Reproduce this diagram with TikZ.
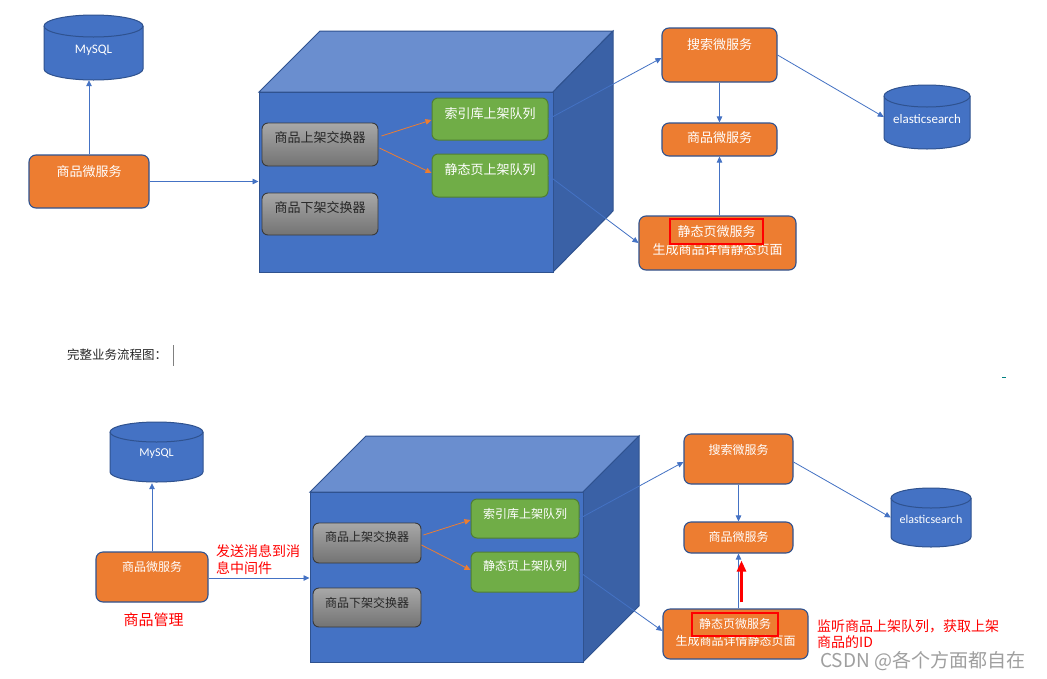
\documentclass[tikz,border=0pt]{standalone}
\usepackage{fontspec}
\setmainfont{Noto Sans CJK SC}
\newfontfamily\latf{Carlito}
\usetikzlibrary{arrows.meta,calc}
\definecolor{cblue}{HTML}{4472C4}
\definecolor{cbord}{HTML}{2F528F}
\definecolor{corange}{HTML}{ED7D31}
\definecolor{cgreen}{HTML}{70AD47}
\definecolor{cgreenb}{HTML}{507E32}
\definecolor{cgrayt}{HTML}{A8A8A8}
\definecolor{cgrayb}{HTML}{737373}
\definecolor{cgrayd}{HTML}{3A3A3A}
\definecolor{ctop}{HTML}{6A8ECF}
\definecolor{cright}{HTML}{3A61A6}
\definecolor{cred}{HTML}{FF0000}
\definecolor{ctxt}{HTML}{262626}
\tikzset{
  obox/.style={rectangle, rounded corners=7pt, fill=corange, draw=cbord, line width=1.1pt, inner sep=0pt},
  gbox/.style={rectangle, rounded corners=6pt, top color=cgrayt, bottom color=cgrayb, draw=cgrayd, line width=0.9pt, inner sep=0pt},
  qbox/.style={rectangle, rounded corners=6pt, fill=cgreen, draw=cgreenb, line width=1pt, inner sep=0pt},
  area/.style={rectangle, inner sep=0pt},
  wtA/.style={text=white, inner sep=0pt, font=\fontsize{13}{15}\selectfont},
  wtB/.style={text=white, inner sep=0pt, font=\fontsize{12}{14}\selectfont},
  dtA/.style={text=ctxt, inner sep=0pt, font=\fontsize{13}{15}\selectfont},
  dtB/.style={text=ctxt, inner sep=0pt, font=\fontsize{12}{14}\selectfont},
  conn/.style={draw=cblue, line width=0.8pt, -{Triangle[length=6pt,width=5.5pt]}},
  oconn/.style={draw=corange, line width=0.8pt, -{Triangle[length=6pt,width=5.5pt]}},
  redbox/.style={draw=cred, line width=1.2pt},
  redtxt/.style={text=cred, inner sep=0pt, anchor=west, font=\fontsize{14}{16}\selectfont},
  cylfill/.style={fill=cblue, draw=cbord, line width=1pt},
}
\begin{document}
\begin{tikzpicture}[x=1pt,y=-1pt]
\useasboundingbox[fill=white] (0,0) rectangle (1047,678);

% ================= TOP DIAGRAM =================
% MySQL cylinder
\filldraw[cylfill] (143,26) -- (143,69) arc[start angle=0,end angle=-180,x radius=49.5pt,y radius=11pt] -- (44,26) arc[start angle=180,end angle=0,x radius=49.5pt,y radius=11pt] -- cycle;
\draw[cbord, line width=1pt] (44,26) arc[start angle=180,end angle=360,x radius=49.5pt,y radius=11pt];
\node[area, minimum width=99pt, minimum height=65pt] (mysql1) at (93.5,47.5) {};
\node[text=white, inner sep=0pt, font=\latf\fontsize{13}{15}\selectfont] (mysql1t) at (93.5,50) {MySQL};

% elasticsearch cylinder
\filldraw[cylfill] (970,96) -- (970,138) arc[start angle=0,end angle=-180,x radius=43pt,y radius=11pt] -- (884,96) arc[start angle=180,end angle=0,x radius=43pt,y radius=11pt] -- cycle;
\draw[cbord, line width=1pt] (884,96) arc[start angle=180,end angle=360,x radius=43pt,y radius=11pt];
\node[area, minimum width=86pt, minimum height=64pt] (es1) at (927,117) {};
\node[text=white, inner sep=0pt, font=\latf\fontsize{13}{15}\selectfont] (es1t) at (927,119) {elasticsearch};

% cube
\filldraw[fill=ctop, draw=cbord, line width=1pt] (259,92) -- (320,31) -- (613,31) -- (553,92) -- cycle;
\filldraw[fill=cright, draw=cbord, line width=1pt] (553,92) -- (613,31) -- (613,211) -- (553,272) -- cycle;
\node[area, fill=cblue, draw=cbord, line width=1pt, minimum width=294pt, minimum height=180pt] (cube1) at (406,182) {};

% boxes
\node[obox, minimum width=120pt, minimum height=53pt] (pm1) at (89,181.5) {};
\node[wtA] (pm1t) at (89,172) {商品微服务};
\node[gbox, minimum width=116pt, minimum height=43pt] (ex1) at (320,144.5) {};
\node[dtA] (ex1t) at (320,138) {商品上架交换器};
\node[gbox, minimum width=116pt, minimum height=42pt] (ex2) at (320,214) {};
\node[dtA] (ex2t) at (320,208) {商品下架交换器};
\node[qbox, minimum width=116pt, minimum height=42pt] (q1) at (490,119) {};
\node[wtA] (q1t) at (490,114) {索引库上架队列};
\node[qbox, minimum width=116pt, minimum height=43pt] (q2) at (490,175.5) {};
\node[wtA] (q2t) at (490,170) {静态页上架队列};
\node[obox, minimum width=115pt, minimum height=54pt] (search1) at (719.5,55) {};
\node[wtA] (search1t) at (719.5,45) {搜索微服务};
\node[obox, minimum width=115pt, minimum height=33pt] (pm2) at (719.5,139.5) {};
\node[wtA] (pm2t) at (719.5,138) {商品微服务};
\node[obox, minimum width=157pt, minimum height=54pt] (static1) at (717.5,243) {};
\node[wtA] (static1t) at (716.5,232) {静态页微服务};
\node[wtA] (static1u) at (717.5,250) {生成商品详情静态页面};
\node[area, redbox, minimum width=93pt, minimum height=25pt] (rb1) at (716.5,231.5) {};

% connectors
\draw[conn] (pm1.north) -- (pm1.north |- mysql1.south);
\draw[conn] (pm1.east) -- (pm1.east -| cube1.west);
\draw[oconn] ([xshift=3pt,yshift=8.5pt]ex1.east) -- ([yshift=-1pt]q1.west);
\draw[oconn] ([xshift=1pt,yshift=-3.5pt]ex1.east) -- ([yshift=2.5pt]q2.west);
\draw[conn] (q1.east) -- ([yshift=-3pt]search1.west);
\draw[conn] (q2.east) -- (static1.west);
\draw[conn] (search1.south) -- (pm2.north);
\draw[conn] (pm2.south |- static1.north) -- (pm2.south);
\draw[conn] (search1.east) -- (es1.west);

% ================= MIDDLE TEXT =================
\node[inner sep=0pt, anchor=west, text=ctxt, font=\fontsize{12.5}{14}\selectfont] (title) at (67,355) {完整业务流程图：};
\draw[gray, line width=0.8pt] (173,345) -- (173,366);
\draw[teal, line width=1pt] (1002,377) -- (1006,377);

% ================= BOTTOM DIAGRAM =================
\filldraw[cylfill] (203,432) -- (203,472) arc[start angle=0,end angle=-180,x radius=46.5pt,y radius=10pt] -- (110,432) arc[start angle=180,end angle=0,x radius=46.5pt,y radius=10pt] -- cycle;
\draw[cbord, line width=1pt] (110,432) arc[start angle=180,end angle=360,x radius=46.5pt,y radius=10pt];
\node[area, minimum width=93pt, minimum height=61pt] (mysql2) at (156.5,452.5) {};
\node[text=white, inner sep=0pt, font=\latf\fontsize{12}{14}\selectfont] (mysql2t) at (156.5,454) {MySQL};

\filldraw[cylfill] (971,498) -- (971,537) arc[start angle=0,end angle=-180,x radius=40pt,y radius=10pt] -- (891,498) arc[start angle=180,end angle=0,x radius=40pt,y radius=10pt] -- cycle;
\draw[cbord, line width=1pt] (891,498) arc[start angle=180,end angle=360,x radius=40pt,y radius=10pt];
\node[area, minimum width=80pt, minimum height=59pt] (es2) at (931,517.5) {};
\node[text=white, inner sep=0pt, font=\latf\fontsize{12}{14}\selectfont] (es2t) at (931,519) {elasticsearch};

\filldraw[fill=ctop, draw=cbord, line width=1pt] (310,492) -- (366,436) -- (639,436) -- (583,492) -- cycle;
\filldraw[fill=cright, draw=cbord, line width=1pt] (583,492) -- (639,436) -- (639,606) -- (583,662) -- cycle;
\node[area, fill=cblue, draw=cbord, line width=1pt, minimum width=273pt, minimum height=170pt] (cube2) at (446.5,577) {};

\node[obox, minimum width=112pt, minimum height=50pt] (pm3) at (152,577) {};
\node[wtB] (pm3t) at (152,567) {商品微服务};
\node[gbox, minimum width=108pt, minimum height=40pt] (ex3) at (367,543) {};
\node[dtB] (ex3t) at (367,537) {商品上架交换器};
\node[gbox, minimum width=108pt, minimum height=39pt] (ex4) at (367,607.5) {};
\node[dtB] (ex4t) at (367,603) {商品下架交换器};
\node[qbox, minimum width=108pt, minimum height=39pt] (q3) at (525,518.5) {};
\node[wtB] (q3t) at (525,514) {索引库上架队列};
\node[qbox, minimum width=108pt, minimum height=40pt] (q4) at (525,572) {};
\node[wtB] (q4t) at (525,566) {静态页上架队列};
\node[obox, minimum width=109pt, minimum height=50pt] (search2) at (738.5,459) {};
\node[wtB] (search2t) at (738.5,450) {搜索微服务};
\node[obox, minimum width=109pt, minimum height=31pt] (pm4) at (738.5,537.5) {};
\node[wtB] (pm4t) at (738.5,537) {商品微服务};
\node[obox, minimum width=145pt, minimum height=50pt] (static2) at (735.5,634) {};
\node[wtB] (static2t) at (735,624) {静态页微服务};
\node[wtB] (static2u) at (735.5,641) {生成商品详情静态页面};
\node[area, redbox, minimum width=86pt, minimum height=23pt] (rb2) at (735,624.5) {};

% red annotations
\node[redtxt, align=left, font=\fontsize{14}{17}\selectfont] (lbl1) at (216,559.5) {发送消息到消\\息中间件};
\node[text=cred, inner sep=0pt, font=\fontsize{15}{17}\selectfont] (lbl2) at (153.5,620) {商品管理};
\node[redtxt, align=left, font=\fontsize{14}{15.5}\selectfont] (lbl3) at (817,634) {监听商品上架队列，获取上架\\商品的ID};

% connectors
\draw[conn] (pm3.north) -- (pm3.north |- mysql2.south);
\draw[conn] ([yshift=-1pt]pm3.east) -- ([yshift=-1pt]pm3.east -| cube2.west);
\draw[oconn] ([xshift=2pt,yshift=8pt]ex3.east) -- ([yshift=-1.5pt]q3.west);
\draw[oconn] ([yshift=-2pt]ex3.east) -- ([yshift=2pt]q4.west);
\draw[conn] (q3.east) -- ([yshift=-3pt]search2.west);
\draw[conn] (q4.east) -- ([yshift=3pt]static2.west);
\draw[conn] (search2.south) -- (pm4.north);
\draw[conn] (pm4.south |- static2.north) -- (pm4.south);
\draw[conn] ([yshift=-3pt]search2.east) -- (es2.west);
\coordinate (ra) at ([xshift=3pt,yshift=6pt]pm4.south |- static2.north);
\coordinate (rb) at ([xshift=3pt,yshift=-7pt]pm4.south);
\draw[cred, line width=3pt, -{Triangle[length=11pt,width=9pt]}] (ra) -- (rb);

% watermark
\node[inner sep=0pt, anchor=base west, text=gray!75, font=\fontsize{19}{21}\selectfont] (wm) at (820,667) {CSDN @各个方面都自在};
\end{tikzpicture}
\end{document}
